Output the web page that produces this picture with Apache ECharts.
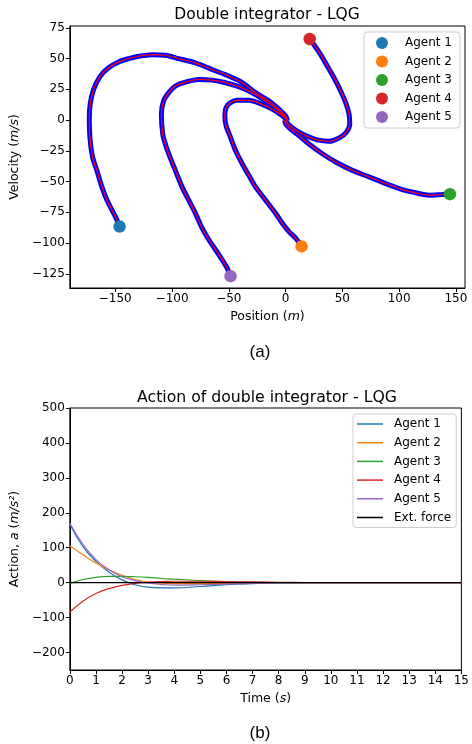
<!DOCTYPE html>
<html lang="en">
<head>
    <meta charset="utf-8" />
    <title>Double integrator - LQG</title>
    <script type="text/javascript" src="https://cdn.jsdelivr.net/npm/echarts@6/dist/echarts.min.js"></script>
    <style type="text/css">
        body { margin: 0; background: #fff; }
        .panel { width: 472px; height: 372px; }
    </style>
</head>
<body>
    <div id="top" class="panel"></div>
    <div id="bottom" class="panel"></div>

    <script type="text/javascript">
        var FONT = 'DejaVu Sans';
        var agents = ['Agent 1', 'Agent 2', 'Agent 3', 'Agent 4', 'Agent 5'];
        var colors = ['#1f77b4', '#ff7f0e', '#2ca02c', '#d62728', '#9467bd'];

        // (a) phase plane trajectories [position, velocity]
        var traj1 = [[-146.2, -86.6], [-148.5, -81.2], [-152.9, -73.1], [-157.4, -65], [-161.8, -54.3], [-166.2, -40.9], [-170, -30.1], [-172.1, -16.7], [-172.9, -0.5], [-172.1, 12.9], [-169.1, 25], [-163.2, 35.8], [-155.9, 42.5], [-147.1, 47.3], [-138.2, 50], [-129.4, 51.9], [-117.6, 53.2], [-105.9, 52.7], [-94.1, 50], [-79.4, 46.5], [-64.7, 41.1], [-50, 35.8], [-38.2, 30.4], [-26.5, 22.3], [-14.7, 15.6], [-5.9, 8.9], [0, 3.5], [1.5, -0.5]];
        var traj2 = [[14.1, -102.7], [8.8, -96], [2.9, -90.6], [-2.9, -83.9], [-8.8, -75.8], [-17.6, -65.1], [-26.5, -54.3], [-32.4, -44.9], [-38.2, -35.5], [-44.1, -24.7], [-48.5, -14], [-52.4, -4.6], [-53.5, 3.5], [-52.4, 10.2], [-48.5, 14.2], [-42.6, 16.1], [-32.4, 16.1], [-22.1, 13.4], [-11.8, 8.9], [-2.9, 3.5], [1.5, 0]];
        var traj3 = [[144.7, -60.2], [138.2, -60.5], [126.5, -61], [114.7, -59.1], [102.9, -56.5], [88.2, -51.6], [73.5, -46.2], [58.8, -40.9], [44.1, -34.1], [32.4, -27.4], [20.6, -19.4], [11.8, -12.6], [4.4, -7.3], [0, -3.2], [-0.6, 0]];
        var traj4 = [[21.2, 65.9], [25, 61.3], [30.9, 53.2], [36.8, 43.8], [42.6, 34.4], [48.5, 23.7], [52.9, 14.2], [55.9, 4.8], [56.5, -3.2], [53.5, -9.9], [47.1, -14.5], [38.2, -17.2], [27.9, -16.1], [17.6, -12.6], [8.8, -8.1], [2.9, -3.8], [0, -0.5]];
        var traj5 = [[-48.5, -126.9], [-51.5, -120.2], [-58.8, -109.4], [-67.6, -97.3], [-73.5, -87.9], [-79.4, -75.8], [-85.3, -65.1], [-91.2, -54.3], [-97.1, -40.9], [-102.9, -27.4], [-105.9, -19.4], [-108.2, -11.3], [-109.4, 4.8], [-107.4, 15.6], [-102.9, 22.3], [-97.1, 27.7], [-88.2, 30.9], [-76.5, 33.1], [-64.7, 32.5], [-52.9, 30.4], [-41.2, 27.2], [-29.4, 22.3], [-17.6, 15.6], [-8.8, 9.7], [-1.5, 3.5], [1.5, 0]];
        var trajs = [traj1, traj2, traj3, traj4, traj5];
        var posTicks = [-150, -100, -50, 0, 50, 100, 150];
        var velTicks = [-125, -100, -75, -50, -25, 0, 25, 50, 75];

        // (b) actions over time
        var times = [0, 0.5, 1, 1.5, 2, 2.5, 3, 3.5, 4, 5, 6, 7, 8, 9, 10, 11, 12, 13, 14, 15];
        var act1 = [167, 103, 61, 30, 8, -6, -13, -15, -15, -11, -6, -3, -1, 0, 0, 0, 0, 0, 0, 0];
        var act2 = [105, 80, 56, 37, 21, 9, 2, -1, -3, -3, -2, -1, 0, 0, 0, 0, 0, 0, 0, 0];
        var act3 = [-3, 9, 15, 18, 18, 17, 15, 12, 10, 6, 3, 1.5, 0.5, 0, 0, 0, 0, 0, 0, 0];
        var act4 = [-84, -53, -31, -17, -8, -2, 1, 3, 4, 4, 3, 2, 1, 0.3, 0, 0, 0, 0, 0, 0];
        var act5 = [170, 110, 66, 37, 17, 6, -1, -5, -7, -6, -4, -2, -1, 0, 0, 0, 0, 0, 0, 0];
        var extForce = [0, 0, 0, 0, 0, 0, 0, 0, 0, 0, 0, 0, 0, 0, 0, 0, 0, 0, 0, 0];
        var actions = [act1, act2, act3, act4, act5];
        var timeTicks = [0, 1, 2, 3, 4, 5, 6, 7, 8, 9, 10, 11, 12, 13, 14, 15];
        var actTicks = [-200, -100, 0, 100, 200, 300, 400, 500];

        function fmt(v) {
            return String(v).replace('-', '\u2212');
        }

        function axis(min, max, ticks, name, gap) {
            return {
                type: 'value',
                min: min,
                max: max,
                name: name,
                nameLocation: 'middle',
                nameGap: gap,
                nameTextStyle: {
                    color: '#000', fontSize: 12.5, fontFamily: FONT,
                    rich: { i: { fontStyle: 'italic', fontSize: 12.5, fontFamily: FONT, color: '#000' } }
                },
                axisLine: { show: true, onZero: false, lineStyle: { color: '#000', width: 1 } },
                axisTick: { show: true, length: 4, customValues: ticks, lineStyle: { color: '#000' } },
                axisLabel: { customValues: ticks, margin: 5, color: '#000', fontSize: 12, fontFamily: FONT, formatter: fmt },
                splitLine: { show: false }
            };
        }

        function textItem(txt, x, y, size, family) {
            return {
                type: 'text', x: x, y: y,
                style: { text: txt, fill: '#000', font: size + 'px "' + family + '"', textAlign: 'center', textVerticalAlign: 'middle' }
            };
        }

        // ---- top chart ----
        var topSeries = [];
        for (var k = 0; k < 5; k++) {
            topSeries.push({
                type: 'line', data: trajs[k], smooth: 0.3, symbol: 'none', silent: true,
                lineStyle: { color: '#0000ff', width: 5 }, z: 2
            });
        }
        for (var k = 0; k < 5; k++) {
            topSeries.push({
                type: 'line', data: trajs[k], smooth: 0.3, symbol: 'none', silent: true,
                lineStyle: { color: '#ff0000', width: 1.2 }, z: 3
            });
        }
        for (var k = 0; k < 5; k++) {
            topSeries.push({
                name: agents[k], type: 'scatter', data: [trajs[k][0]], symbolSize: 12.5,
                itemStyle: { color: colors[k], opacity: 1 }, z: 5
            });
        }

        var topChart = echarts.init(document.getElementById('top'));
        topChart.setOption({
            animation: false,
            grid: { left: 68, top: 26, width: 397, height: 262, show: true, borderColor: '#000', borderWidth: 1 },
            xAxis: axis(-190, 158, posTicks, 'Position ({i|m})', 19),
            yAxis: axis(-136.5, 76.5, velTicks, 'Velocity ({i|m/s})', 44),
            legend: {
                data: agents, orient: 'vertical', left: 364, top: 32,
                icon: 'circle', itemWidth: 12, itemHeight: 12, itemGap: 6.5,
                padding: [5, 8, 5, 12],
                backgroundColor: '#fff', borderColor: '#ccc', borderWidth: 1, borderRadius: 3,
                textStyle: { color: '#000', fontSize: 12, fontFamily: FONT, padding: [0, 0, 0, 12] }
            },
            graphic: [
                textItem('Double integrator - LQG', 267, 15, 15.5, FONT),
                textItem('(a)', 260, 352, 17, 'Liberation Sans')
            ],
            series: topSeries
        });

        // ---- bottom chart ----
        var bottomSeries = [];
        for (var k = 0; k < 5; k++) {
            var pts = times.map(function (t, i) { return [t, actions[k][i]]; });
            bottomSeries.push({
                name: agents[k], type: 'line', data: pts, smooth: true, symbol: 'none',
                lineStyle: { color: colors[k], width: 1.2 }, itemStyle: { color: colors[k] }
            });
        }
        bottomSeries.push({
            name: 'Ext. force', type: 'line', symbol: 'none',
            data: times.map(function (t, i) { return [t, extForce[i]]; }),
            lineStyle: { color: '#000', width: 1.2 }, itemStyle: { color: '#000' }
        });

        var bottomChart = echarts.init(document.getElementById('bottom'));
        bottomChart.setOption({
            animation: false,
            grid: { left: 68, top: 36, width: 397, height: 262, show: true, borderColor: '#000', borderWidth: 1 },
            xAxis: axis(0, 15, timeTicks, 'Time ({i|s})', 19),
            yAxis: axis(-250, 500, actTicks, 'Action, {i|a} ({i|m/s²})', 44),
            legend: {
                data: agents.concat(['Ext. force']), orient: 'vertical', left: 353, top: 42,
                icon: 'rect', itemWidth: 26, itemHeight: 1.5, itemGap: 6.7,
                padding: [4, 5, 4, 4],
                backgroundColor: '#fff', borderColor: '#ccc', borderWidth: 1, borderRadius: 3,
                textStyle: { color: '#000', fontSize: 12, lineHeight: 12, fontFamily: FONT, padding: [0, 0, 0, 6] }
            },
            graphic: [
                textItem('Action of double integrator - LQG', 267, 26, 15.7, FONT),
                textItem('(b)', 260, 361, 17, 'Liberation Sans')
            ],
            series: bottomSeries
        });
    </script>
</body>
</html>
